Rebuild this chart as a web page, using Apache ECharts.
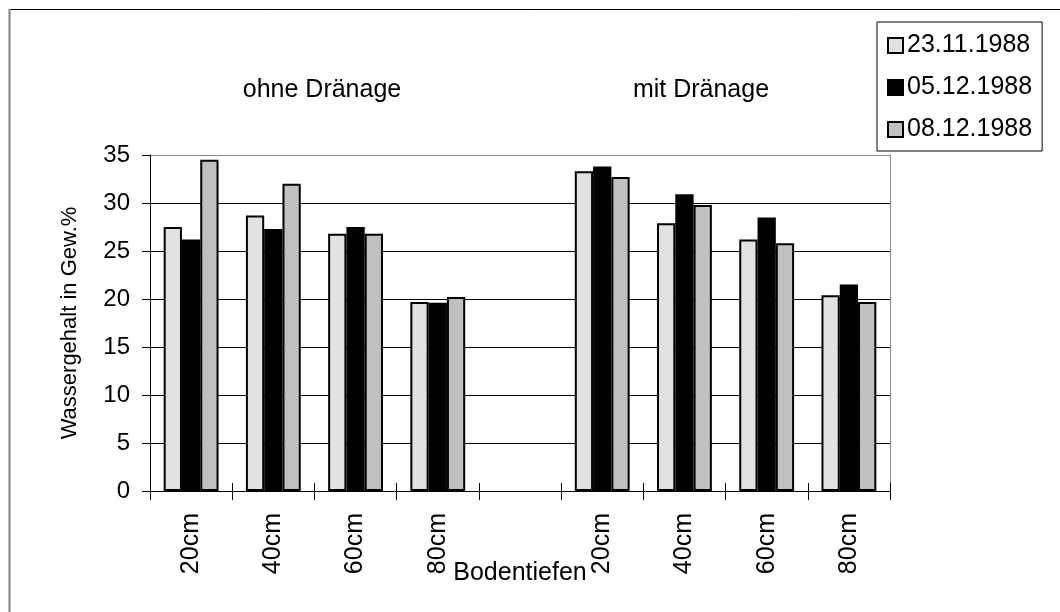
<!DOCTYPE html>
<html>
<head>
<meta charset="utf-8">
<script src="https://cdn.jsdelivr.net/npm/echarts@6/dist/echarts.min.js"></script>
<style>
html,body{margin:0;padding:0;background:#fff;}
#chart{width:1060px;height:612px;}
</style>
</head>
<body>
<div id="chart"></div>
<script>
const categories = ['20cm', '40cm', '60cm', '80cm', '', '20cm', '40cm', '60cm', '80cm'];
const seriesNames = ['23.11.1988', '05.12.1988', '08.12.1988'];
const s1 = [27.5, 28.7, 26.8, 19.7, null, 33.3, 27.9, 26.2, 20.4];
const s2 = [26.2, 27.3, 27.5, 19.6, null, 33.8, 30.9, 28.5, 21.5];
const s3 = [34.5, 32.0, 26.8, 20.2, null, 32.7, 29.8, 25.8, 19.7];
const groupTitles = ['ohne Dränage', 'mit Dränage'];
const yMin = 0, yMax = 35, yStep = 5;
const yAxisName = 'Wassergehalt in Gew.%';
const xAxisName = 'Bodentiefen';

const FONT = "'Liberation Sans', Arial, sans-serif";
const fills = ['#E2E2E2', '#000000', '#C0C0C0'];
const seriesData = [s1, s2, s3];

const chart = echarts.init(document.getElementById('chart'), null, {renderer: 'canvas'});

const gridColors = [];
for (let v = yMin; v <= yMax; v += yStep) gridColors.push(v === yMax ? '#8a8a8a' : '#000000');

const option = {
  backgroundColor: '#ffffff',
  animation: false,
  textStyle: {fontFamily: FONT, color: '#000'},
  grid: {left: 150, top: 155, right: 170, bottom: 121, containLabel: false},
  legend: {
    orient: 'vertical',
    left: 877, top: 22,
    padding: [11, 10, 9, 10],
    itemWidth: 15, itemHeight: 15,
    itemGap: 17,
    icon: 'rect',
    borderColor: '#000', borderWidth: 1,
    backgroundColor: '#fff',
    data: seriesNames,
    textStyle: {fontFamily: FONT, fontSize: 25, color: '#000', lineHeight: 24, padding: [0, 0, 0, -1]}
  },
  xAxis: [{
    type: 'category',
    data: categories,
    position: 'bottom',
    boundaryGap: true,
    name: xAxisName,
    nameLocation: 'middle',
    nameGap: 70,
    nameMoveOverlap: false,
    nameTextStyle: {fontFamily: FONT, fontSize: 25, color: '#000'},
    axisLine: {show: true, lineStyle: {color: '#000', width: 1}},
    axisTick: {show: true, length: 9, alignWithLabel: false, lineStyle: {color: '#000'}},
    axisLabel: {show: true, rotate: 90, margin: 22, interval: 0, fontFamily: FONT, fontSize: 25, color: '#000'},
    splitLine: {show: false}
  }, {
    type: 'category',
    data: categories,
    position: 'bottom',
    boundaryGap: true,
    axisLine: {show: false},
    axisTick: {show: true, inside: true, length: 8, lineStyle: {color: '#000'}},
    axisLabel: {show: false},
    splitLine: {show: false}
  }],
  yAxis: [{
    type: 'value',
    min: yMin, max: yMax, interval: yStep,
    name: yAxisName,
    nameLocation: 'middle',
    nameGap: 69,
    nameMoveOverlap: false,
    nameTextStyle: {fontFamily: FONT, fontSize: 22, color: '#000'},
    axisLine: {show: true, lineStyle: {color: '#000', width: 1}},
    axisTick: {show: true, length: 8, lineStyle: {color: '#000'}},
    axisLabel: {margin: 20, fontFamily: FONT, fontSize: 24, color: '#000'},
    splitLine: {show: true, lineStyle: {color: gridColors, width: 1}}
  }, {
    type: 'value',
    position: 'right',
    min: yMin, max: yMax, interval: yStep,
    axisLine: {show: true, lineStyle: {color: '#8a8a8a', width: 1}},
    axisTick: {show: false},
    axisLabel: {show: false},
    splitLine: {show: false}
  }],
  series: seriesNames.map((n, i) => ({
    name: n,
    type: 'bar',
    xAxisIndex: 0,
    yAxisIndex: 0,
    data: seriesData[i],
    barGap: '0%',
    barCategoryGap: '33.3%',
    itemStyle: {color: fills[i], borderColor: '#000', borderWidth: 2}
  })),
  graphic: [
    {type: 'line', shape: {x1: 9, y1: 9.5, x2: 1060, y2: 9.5}, style: {stroke: '#000', lineWidth: 1}},
    {type: 'line', shape: {x1: 9.5, y1: 9, x2: 9.5, y2: 612}, style: {stroke: '#808080', lineWidth: 2}},
    {type: 'text', x: 322, y: 90, style: {text: groupTitles[0], font: '25px ' + FONT, fill: '#000', textAlign: 'center', textVerticalAlign: 'middle'}},
    {type: 'text', x: 701, y: 90, style: {text: groupTitles[1], font: '25px ' + FONT, fill: '#000', textAlign: 'center', textVerticalAlign: 'middle'}}
  ]
};
chart.setOption(option);
</script>
</body>
</html>
